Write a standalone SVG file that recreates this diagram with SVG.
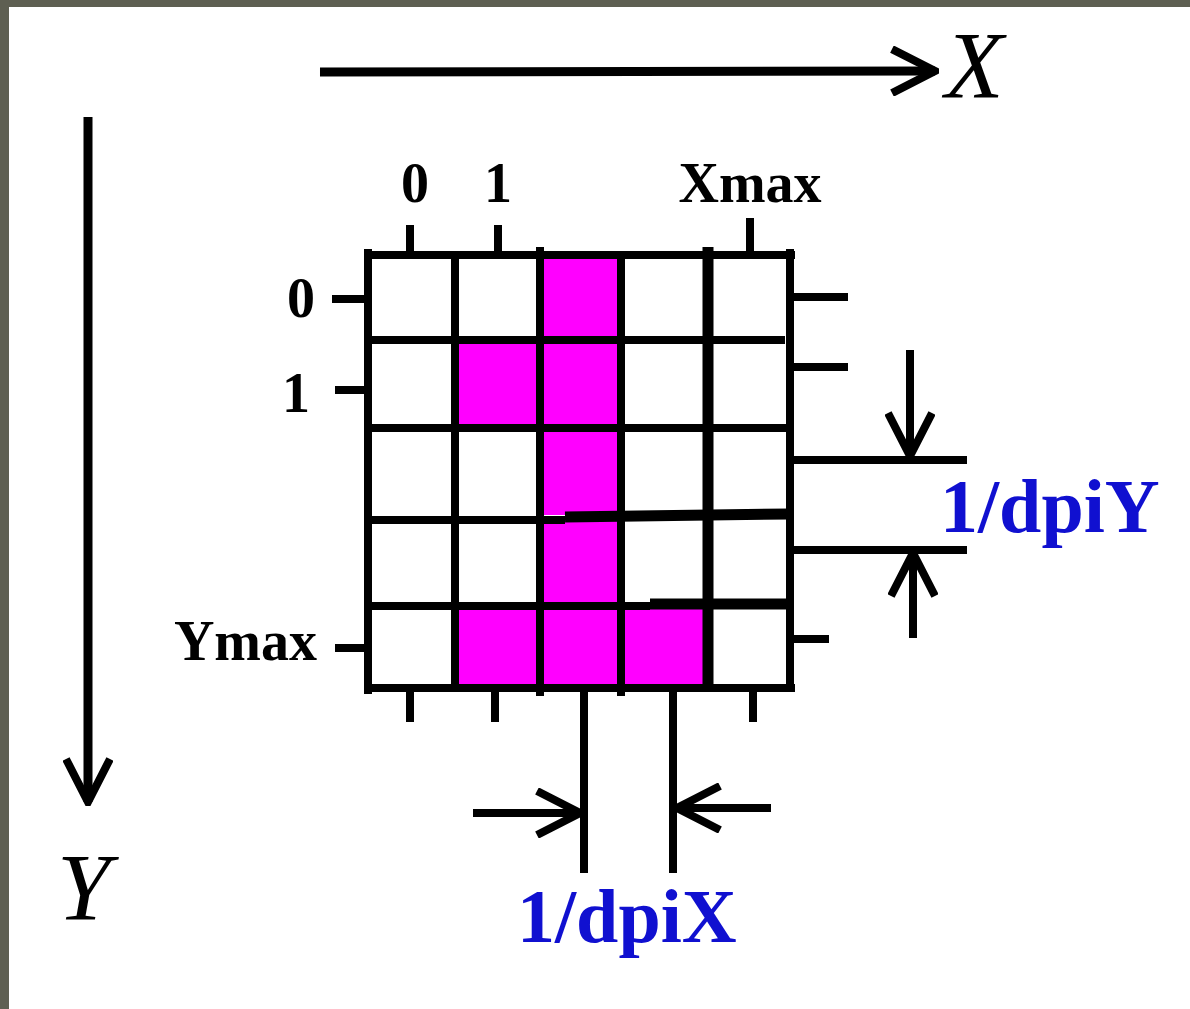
<svg xmlns="http://www.w3.org/2000/svg" width="1190" height="1009" viewBox="0 0 1190 1009">
<style>
.ln{stroke:#000;stroke-width:8;fill:none;stroke-linecap:butt}
.thick{stroke:#000;stroke-width:11;fill:none}
.axis{stroke:#000;stroke-width:9;fill:none}
.px{fill:#ff00ff}
.lbl{font-family:"Liberation Serif","Times New Roman",serif;font-weight:bold;font-size:56px;fill:#000}
.dim{font-family:"Liberation Serif","Times New Roman",serif;font-weight:bold;font-size:76px;fill:#1010d0}
.ax{font-family:"Liberation Serif","Times New Roman",serif;font-style:italic;font-size:96px;fill:#000}
</style>
<defs>
<marker id="head" viewBox="0 0 50 50" refX="46" refY="25" markerWidth="50" markerHeight="50" markerUnits="userSpaceOnUse" orient="auto">
<path d="M3,3 L46,25 L3,47" fill="none" stroke="#000" stroke-width="8"/>
</marker>
</defs>
<rect x="0" y="0" width="1190" height="1009" fill="#5e5f52"/>
<rect x="9" y="7" width="1181" height="1002" fill="#ffffff"/>

<g id="pixels">
<rect class="px" x="543" y="257" width="74" height="82"/>
<rect class="px" x="458" y="342" width="80" height="84"/>
<rect class="px" x="543" y="342" width="74" height="84"/>
<rect class="px" x="543" y="430" width="74" height="85"/>
<rect class="px" x="543" y="519" width="74" height="84"/>
<rect class="px" x="458" y="608" width="80" height="78"/>
<rect class="px" x="543" y="608" width="74" height="78"/>
<rect class="px" x="625" y="608" width="80" height="78"/>
</g>

<g id="grid">
<line class="ln" x1="368" y1="249" x2="368" y2="694"/>
<line class="ln" x1="455" y1="255" x2="455" y2="688"/>
<line class="ln" x1="540" y1="247" x2="540" y2="696"/>
<line class="ln" x1="621" y1="255" x2="621" y2="696"/>
<line class="thick" x1="708" y1="247" x2="708" y2="688"/>
<line class="ln" x1="790" y1="249" x2="790" y2="692"/>
<line class="ln" x1="364" y1="255" x2="795" y2="255"/>
<line class="ln" x1="364" y1="340" x2="785" y2="340"/>
<line class="ln" x1="368" y1="428" x2="790" y2="428"/>
<line class="ln" x1="364" y1="520" x2="565" y2="520"/>
<line class="thick" x1="565" y1="517" x2="790" y2="514"/>
<line class="ln" x1="368" y1="606" x2="650" y2="606"/>
<line class="thick" x1="650" y1="604" x2="790" y2="604"/>
<line class="ln" x1="364" y1="688" x2="795" y2="688"/>
</g>

<g id="ticks">
<line class="ln" x1="410" y1="225" x2="410" y2="255"/>
<line class="ln" x1="498" y1="225" x2="498" y2="255"/>
<line class="ln" x1="750" y1="218" x2="750" y2="255"/>
<line class="ln" x1="332" y1="299" x2="368" y2="299"/>
<line class="ln" x1="335" y1="390" x2="368" y2="390"/>
<line class="ln" x1="335" y1="648" x2="368" y2="648"/>
<line class="ln" x1="790" y1="297" x2="848" y2="297"/>
<line class="ln" x1="790" y1="367" x2="848" y2="367"/>
<line class="ln" x1="790" y1="639" x2="829" y2="639"/>
<line class="ln" x1="410" y1="688" x2="410" y2="722"/>
<line class="ln" x1="495" y1="688" x2="495" y2="722"/>
<line class="ln" x1="753" y1="688" x2="753" y2="722"/>
</g>

<g id="labels">
<text class="lbl" x="415" y="202" text-anchor="middle">0</text>
<text class="lbl" x="498" y="202" text-anchor="middle">1</text>
<text class="lbl" x="750" y="202" text-anchor="middle">Xmax</text>
<text class="lbl" x="315" y="317" text-anchor="end">0</text>
<text class="lbl" x="310" y="412" text-anchor="end">1</text>
<text class="lbl" x="317" y="660" text-anchor="end">Ymax</text>
<text class="dim" x="940" y="532">1/dpiY</text>
<text class="dim" x="517" y="942">1/dpiX</text>
<text class="ax" x="945" y="98">X</text>
<text class="ax" x="57" y="920">Y</text>
</g>

<g id="connectors">
<line class="axis" x1="320" y1="72" x2="935" y2="71" marker-end="url(#head)"/>
<line class="axis" x1="88" y1="117" x2="88" y2="802" marker-end="url(#head)"/>
<line class="ln" x1="790" y1="460" x2="967" y2="460"/>
<line class="ln" x1="790" y1="550" x2="967" y2="550"/>
<line class="ln" x1="910" y1="350" x2="910" y2="456" marker-end="url(#head)"/>
<line class="ln" x1="913" y1="638" x2="913" y2="553" marker-end="url(#head)"/>
<line class="ln" x1="584" y1="688" x2="584" y2="873"/>
<line class="ln" x1="673" y1="688" x2="673" y2="873"/>
<line class="ln" x1="473" y1="813" x2="580" y2="813" marker-end="url(#head)"/>
<line class="ln" x1="771" y1="808" x2="677" y2="808" marker-end="url(#head)"/>
</g>
</svg>
